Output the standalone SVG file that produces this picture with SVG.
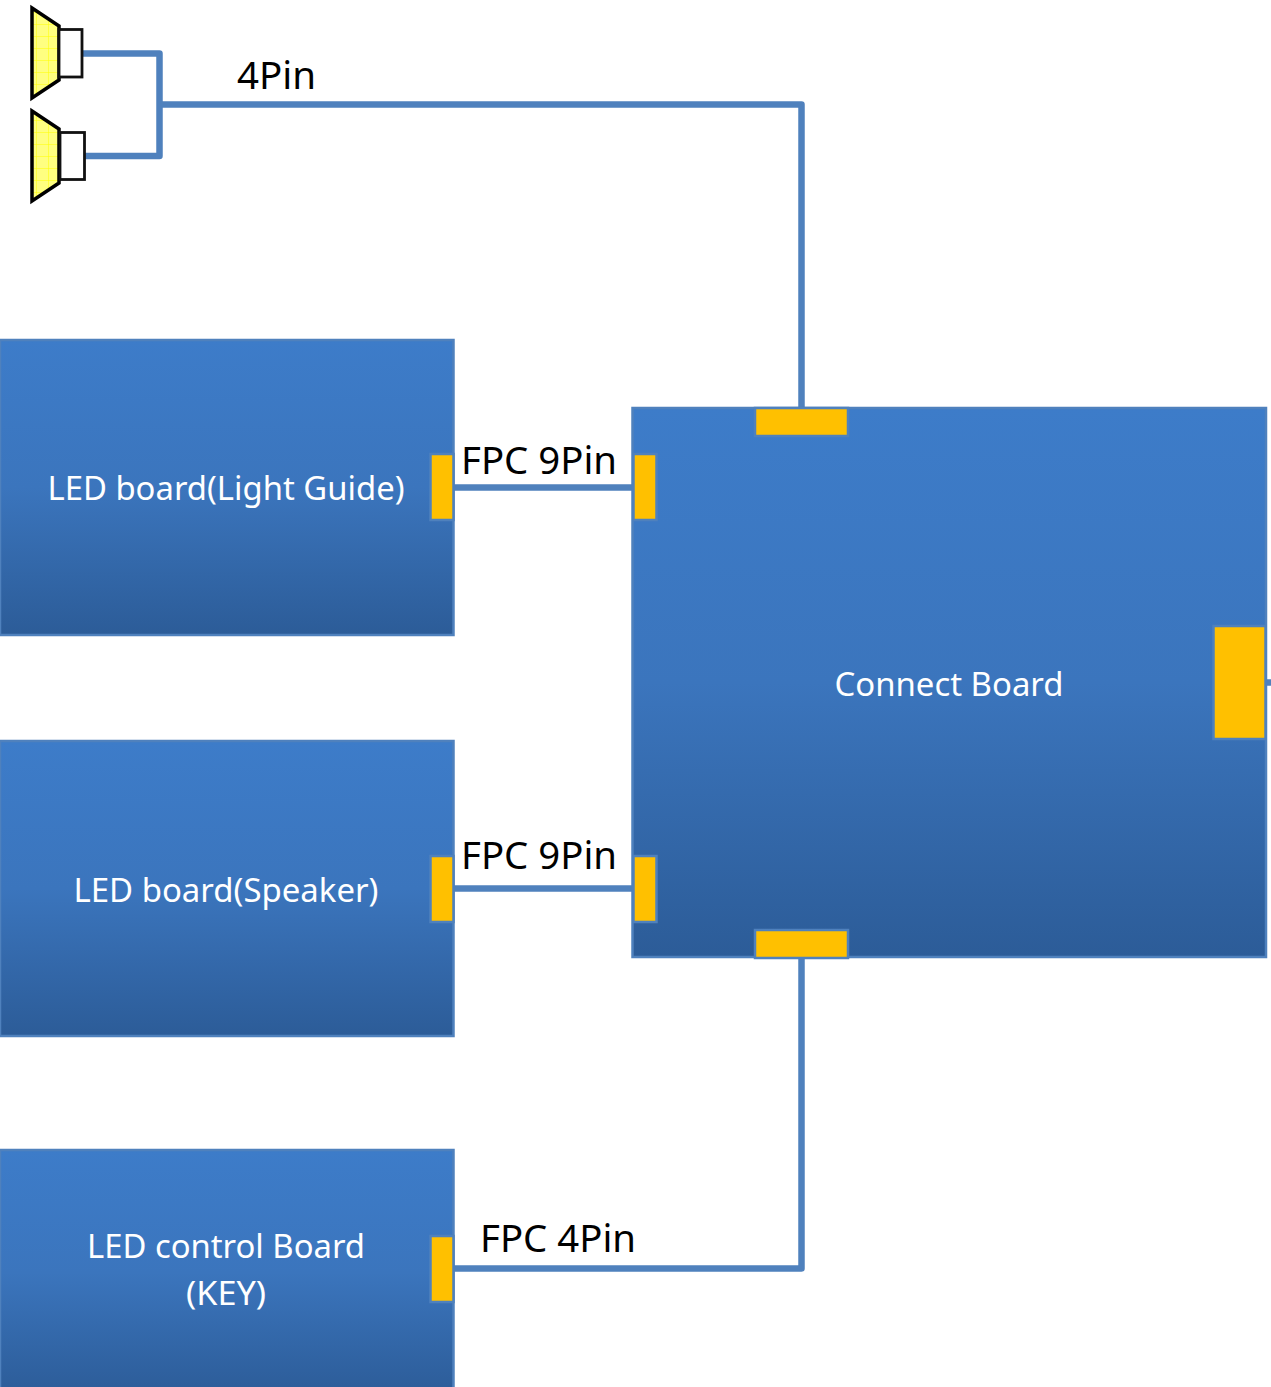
<svg xmlns="http://www.w3.org/2000/svg" width="1271" height="1387" viewBox="0 0 1271 1387">
<style>
.board{fill:url(#g);stroke:#4f81bd;stroke-width:2.5}
.port{fill:#ffc000;stroke:#4f81bd;stroke-width:2.5}
.wire{fill:none;stroke:#4f81bd;stroke-width:6.500;stroke-linejoin:round}
.cone{fill:url(#mesh);stroke:#000;stroke-width:3.500}
.box{fill:#fff;stroke:#111;stroke-width:2.800}
text{font-family:"Noto Sans","Open Sans",sans-serif}
.w{fill:#fff;font-size:33px;text-anchor:middle}
.k{fill:#000;font-size:38px}
</style>
<defs>
<linearGradient id="g" x1="0" y1="0" x2="0" y2="1">
<stop offset="0" stop-color="#3d7cc9"/><stop offset="0.5" stop-color="#3b75bd"/><stop offset="1" stop-color="#2c5c98"/>
</linearGradient>
<pattern id="mesh" width="12" height="12" patternUnits="userSpaceOnUse">
<rect width="12" height="12" fill="#ffff80"/><path d="M0 0H12M0 0V12" stroke="#ffff00" stroke-width="1"/>
</pattern>
</defs>
<g id="connectors">
<path class="wire" d="M82 53.500H159.500V156H85M159.500 104.500H801.500V409"/>
<path class="wire" d="M454 487.500H634"/>
<path class="wire" d="M454 888.500H634"/>
<path class="wire" d="M454 1268.500H801.500V957"/>
<path class="wire" d="M1266 682.500H1271"/>
</g>
<g id="speaker-1"><path class="cone" d="M32 8L59 26V80L32 98Z"/><rect class="box" x="59" y="29.500" width="23" height="47.500"/></g>
<g id="speaker-2"><path class="cone" d="M32 111L59 129V183L32 201Z"/><rect class="box" x="60" y="132.500" width="24.500" height="47"/></g>
<g id="led-light-guide"><rect class="board" x="0" y="340" width="453.500" height="295"/><rect class="port" x="430.500" y="454" width="23" height="66"/><text class="w" x="226" y="500" textLength="357" lengthAdjust="spacingAndGlyphs">LED board(Light Guide)</text></g>
<g id="led-speaker"><rect class="board" x="0" y="741" width="453.500" height="295"/><rect class="port" x="430.500" y="856" width="23" height="66"/><text class="w" x="226" y="902" textLength="305" lengthAdjust="spacingAndGlyphs">LED board(Speaker)</text></g>
<g id="led-control"><rect class="board" x="0" y="1150" width="453.500" height="245"/><rect class="port" x="430.500" y="1236" width="23" height="66"/><text class="w" x="226" y="1258" textLength="278" lengthAdjust="spacingAndGlyphs">LED control Board</text><text class="w" x="226" y="1305" textLength="80" lengthAdjust="spacingAndGlyphs">(KEY)</text></g>
<g id="connect-board"><rect class="board" x="632.500" y="408" width="633.500" height="549"/><rect class="port" x="755" y="408" width="93" height="28"/><rect class="port" x="633.500" y="454" width="23" height="66"/><rect class="port" x="1213.500" y="626" width="52" height="113"/><rect class="port" x="633.500" y="856" width="23" height="66"/><rect class="port" x="755" y="930" width="93" height="28"/><text class="w" x="949" y="696" textLength="229" lengthAdjust="spacingAndGlyphs">Connect Board</text></g>
<g id="labels">
<text class="k" x="237" y="89" textLength="79" lengthAdjust="spacingAndGlyphs">4Pin</text>
<text class="k" x="461" y="474" textLength="156" lengthAdjust="spacingAndGlyphs">FPC 9Pin</text>
<text class="k" x="461" y="869" textLength="156" lengthAdjust="spacingAndGlyphs">FPC 9Pin</text>
<text class="k" x="480" y="1252" textLength="156" lengthAdjust="spacingAndGlyphs">FPC 4Pin</text>
</g>
</svg>
